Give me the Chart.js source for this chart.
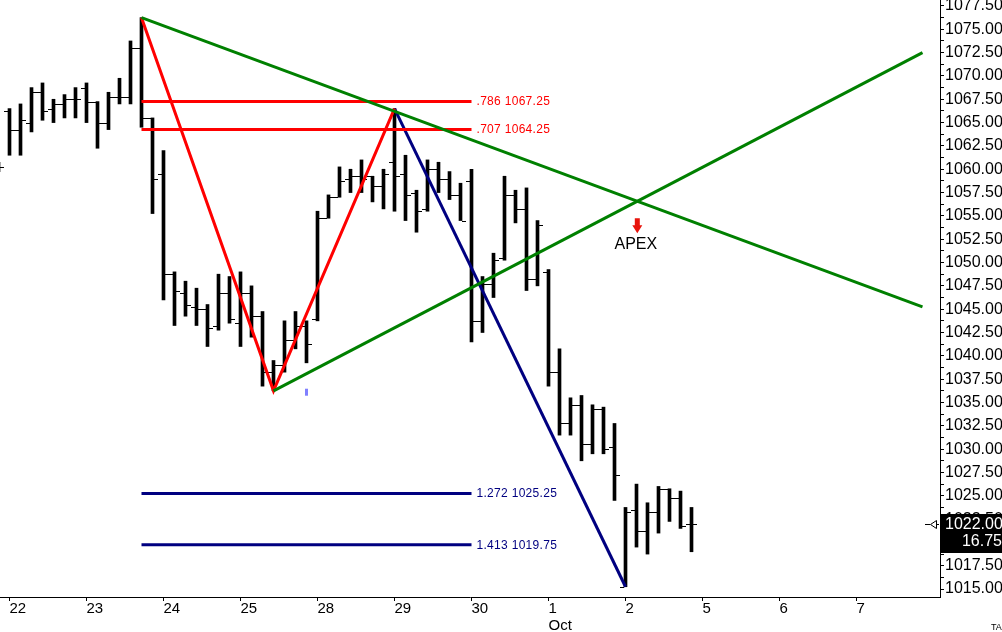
<!DOCTYPE html>
<html><head><meta charset="utf-8">
<script src="https://cdn.jsdelivr.net/npm/chart.js@4.4.1/dist/chart.umd.min.js"></script>
<style>html,body{margin:0;padding:0;background:#fff;overflow:hidden}canvas{display:block}</style>
</head><body>
<canvas id="c" width="1002" height="632"></canvas>
<script>
// ---- Data (bar index -1 .. 62, 7 bars per trading day) ----
const firstBarIndex = -1;
const opens  = [1060.25,
  1066.25,1064.25,1065,1068.25,1066.5,1067,1067.5,1068.75,1067.25,1065,1067.75,1067.75,
  1073,1065.5,1059.5,1048.75,1046.75,1045.25,1045,1043.25,1046.75,1043.5,1046.75,1044.25,
  1038.25,1039,1041.75,1043.25,1044,1054.75,1057,1059,1059.25,1059.25,1058.25,1060.75,
  1059.5,1057.5,1055.75,1060,1059,1057.25,1058.75,1043.75,1047.75,1050.5,1057.25,1055.75,
  1048.25,1049,1038.25,1032.75,1034.75,1030.5,1034.25,1030.25,1015.25,1023.5,1021.25,1023.25,
  1025.75,1024.75,1022];
const highs  = [1060.75,
  1066.5,1067,1068.75,1069.25,1067.5,1068,1068.75,1069.25,1067.25,1068.25,1069.75,1073.75,
  1076.25,1065.5,1062,1049,1048,1047.25,1045.5,1048.75,1048.5,1049,1047.5,1044.75,
  1039.5,1043.75,1044.75,1043.75,1055.5,1057.25,1060.25,1060,1061,1059.25,1060,1066.5,
  1061.5,1057.75,1061,1060.75,1059.75,1058.5,1060,1048.5,1051,1059.25,1057.75,1058,
  1054.5,1049.25,1040.75,1035.5,1035.75,1034.75,1034.5,1032.75,1023.75,1026.25,1024.25,1026,
  1025.75,1025.5,1023.75];
const lows   = [1059.75,
  1061.5,1061.5,1064,1065.25,1065,1065.5,1065.5,1065,1062.25,1064.25,1067,1067,
  1064.5,1055.25,1046,1043.25,1044.25,1043.25,1041,1042.75,1043.5,1041,1042,1036.75,
  1036.25,1038.25,1040.75,1039.25,1043.75,1054.75,1057,1057.5,1057.5,1056.5,1055.75,1055.5,
  1054.5,1053.25,1055.5,1057.5,1056.75,1054.5,1041.5,1042.5,1046.25,1050.25,1054.25,1047,
  1047.5,1036.75,1031.5,1031.5,1028.75,1029.5,1029.5,1024.5,1015.25,1019.5,1018.75,1021,
  1022.25,1021.5,1019];
const closes = [1060.25,
  1064.25,1065.25,1068.25,1066.25,1067,1067.5,1067.5,1067.25,1065,1067.75,1067.75,1073,
  1065.5,1059,1048.75,1047,1045.5,1045,1043,1046.75,1044,1046.75,1044.25,1038.25,
  1039,1041.75,1043.25,1041.25,1054.75,1057,1058.75,1059.25,1059,1058.25,1059.5,1059.25,
  1057.25,1055.5,1060,1059,1057.25,1054.5,1043.75,1047.75,1050.25,1057.25,1055.75,1048.25,
  1054,1038.25,1032.75,1034.75,1030.5,1034.25,1030,1027.25,1023.25,1021.25,1023.25,1025.75,
  1024.75,1021.75,1022];

// x axis: day labels and the bar index where each day starts
const dayLabels  = ['22','23','24','25','28','29','30','1','2','5','6','7'];
const dayTickIdx = [0,7,14,21,28,35,42,49,56,63,70,77];
const monthLabels = {'1':'Oct'};

// y axis labelled ticks
const yMajorTicks = [1015,1017.5,1020,1022.5,1025,1027.5,1030,1032.5,1035,1037.5,1040,1042.5,
  1045,1047.5,1050,1052.5,1055,1057.5,1060,1062.5,1065,1067.5,1070,1072.5,1075,1077.5];

// Harmonic pattern and trendlines (bar index, price)
const patternX = [12, 24, 35];
const patternY = [1076.25, 1036.25, 1066.5];
const legCDX = [35, 56];
const legCDY = [1066.5, 1015.25];
const upperTrendX = [12, 83];
const upperTrendY = [1076.25, 1045.25];
const lowerTrendX = [24, 83];
const lowerTrendY = [1036.25, 1072.5];
const levelSpan = [12, 42];
const retraceLevels = [1067.25, 1064.25];
const retraceLabels = ['.786 1067.25', '.707 1064.25'];
const extLevels = [1025.25, 1019.75];
const extLabels = ['1.272 1025.25', '1.413 1019.75'];
const markerPoint = [{x: 27, y: 1036.1}];
const lastPrice = '1022.00';
const lastChange = '16.75';

// ---- build datasets ----
const RED = '#ff0000', GREEN = '#008000', NAVY = '#000080';
const barData = highs.map((h, k) => ({x: k + firstBarIndex, y: [lows[k], h]}));
function lineDS(xs, ys, color, w) {
  return {type: 'line', data: xs.map((x, k) => ({x: x, y: ys[k]})), borderColor: color,
    borderWidth: w || 3, pointRadius: 0, fill: false, tension: 0, order: 1};
}
const datasets = [
  {type: 'bar', label: 'OHLC', data: barData, backgroundColor: '#000', borderWidth: 0,
   barThickness: 3, order: 10},
  lineDS(upperTrendX, upperTrendY, GREEN),
  lineDS(lowerTrendX, lowerTrendY, GREEN),
  ...retraceLevels.map(v => lineDS(levelSpan, [v, v], RED)),
  ...extLevels.map(v => lineDS(levelSpan, [v, v], NAVY)),
  lineDS(patternX, patternY, RED),
  lineDS(legCDX, legCDY, NAVY),
  {type: 'scatter', data: markerPoint, pointStyle: 'line', rotation: 90, radius: 3.5,
   borderWidth: 3, borderColor: '#8080ff', backgroundColor: '#8080ff', order: 2}
];

const ohlcTicks = {
  id: 'ohlcTicks',
  afterDatasetDraw(chart, args) {
    if (args.index !== 0) return;
    const ctx = chart.ctx, ys = chart.scales.y, a = chart.chartArea;
    const meta = chart.getDatasetMeta(0);
    ctx.save();
    ctx.beginPath(); ctx.rect(a.left, a.top, a.right - a.left, a.bottom - a.top); ctx.clip();
    ctx.strokeStyle = '#000'; ctx.lineWidth = 1;
    meta.data.forEach((el, k) => {
      const x = el.x;
      const yo = Math.round(ys.getPixelForValue(opens[k])) + 0.5;
      const yc = Math.round(ys.getPixelForValue(closes[k])) + 0.5;
      ctx.beginPath();
      ctx.moveTo(x - 5.5, yo); ctx.lineTo(x - 1.5, yo);
      ctx.moveTo(x + 1.5, yc); ctx.lineTo(x + 5.5, yc);
      ctx.stroke();
    });
    ctx.restore();
  }
};

const annotations = {
  id: 'annotations',
  afterDatasetsDraw(chart) {
    const ctx = chart.ctx, xs = chart.scales.x, ys = chart.scales.y;
    ctx.save();
    ctx.font = '12px "Liberation Sans", Arial, sans-serif';
    try { ctx.letterSpacing = '0.3px'; } catch (e) {}
    ctx.textBaseline = 'middle'; ctx.textAlign = 'left';
    const lx = xs.getPixelForValue(levelSpan[1]) + 5;
    retraceLevels.forEach((v, k) => { ctx.fillStyle = RED; ctx.fillText(retraceLabels[k], lx, ys.getPixelForValue(v) + 0.5); });
    extLevels.forEach((v, k) => { ctx.fillStyle = NAVY; ctx.fillText(extLabels[k], lx, ys.getPixelForValue(v) + 0.5); });
    try { ctx.letterSpacing = '0px'; } catch (e) {}
    // apex = intersection of the two trendlines
    const s1 = (upperTrendY[1] - upperTrendY[0]) / (upperTrendX[1] - upperTrendX[0]);
    const s2 = (lowerTrendY[1] - lowerTrendY[0]) / (lowerTrendX[1] - lowerTrendX[0]);
    const b1 = upperTrendY[0] - s1 * upperTrendX[0], b2 = lowerTrendY[0] - s2 * lowerTrendX[0];
    const ax = (b2 - b1) / (s1 - s2), ay = s1 * ax + b1;
    const px = xs.getPixelForValue(ax), py = ys.getPixelForValue(ay);
    ctx.fillStyle = '#e8140c';
    ctx.beginPath();
    ctx.moveTo(px - 2.5, py + 17); ctx.lineTo(px + 2.5, py + 17); ctx.lineTo(px + 2.5, py + 24);
    ctx.lineTo(px + 5, py + 24); ctx.lineTo(px, py + 32); ctx.lineTo(px - 5, py + 24);
    ctx.lineTo(px - 2.5, py + 24); ctx.closePath(); ctx.fill();
    ctx.fillStyle = '#000'; ctx.font = '16px "Liberation Sans", Arial, sans-serif';
    ctx.textAlign = 'center';
    ctx.fillText('APEX', px - 1.5, py + 43);
    ctx.restore();
  },
  afterDraw(chart) {
    const ctx = chart.ctx, ys = chart.scales.y, a = chart.chartArea;
    const y = Math.round(ys.getPixelForValue(closes[closes.length - 1]));
    ctx.save();
    ctx.fillStyle = '#000';
    ctx.fillRect(a.right + 1, y - 10, 70, 39);
    ctx.fillStyle = '#fff';
    ctx.font = '16px "Liberation Sans", Arial, sans-serif';
    ctx.textBaseline = 'middle'; ctx.textAlign = 'left';
    ctx.fillText(lastPrice, a.right + 5, y + 1);
    ctx.textAlign = 'right';
    ctx.fillText(lastChange, 1002, y + 18);
    // pointer marker
    ctx.strokeStyle = '#000'; ctx.lineWidth = 1;
    ctx.beginPath();
    ctx.moveTo(a.right - 15, y + 0.5); ctx.lineTo(a.right - 10, y + 0.5);
    ctx.moveTo(a.right - 9.5, y + 0.5); ctx.lineTo(a.right - 3.5, y - 3.5);
    ctx.lineTo(a.right - 3.5, y + 4.5); ctx.closePath();
    ctx.moveTo(a.right - 3.5, y + 0.5); ctx.lineTo(a.right - 1, y + 0.5);
    ctx.stroke();
    ctx.fillStyle = '#000'; ctx.font = '9px "Liberation Sans", Arial, sans-serif';
    ctx.textAlign = 'left'; ctx.textBaseline = 'alphabetic';
    ctx.fillText('TA', 991, 630);
    ctx.restore();
  }
};

const yAll = [];
for (let k = 0; k < yMajorTicks.length; k++) {
  yAll.push(yMajorTicks[k]);
  if (k < yMajorTicks.length - 1) yAll.push((yMajorTicks[k] + yMajorTicks[k + 1]) / 2);
}

new Chart(document.getElementById('c'), {
  type: 'bar',
  data: {datasets},
  plugins: [ohlcTicks, annotations],
  options: {
    responsive: false, animation: false, devicePixelRatio: 1,
    layout: {padding: 0, autoPadding: false},
    plugins: {legend: {display: false}, tooltip: {enabled: false}},
    scales: {
      x: {
        type: 'linear', offset: false, bounds: 'data',
        min: -9.5 / 11, max: -9.5 / 11 + 940 / 11,
        grid: {drawOnChartArea: false, drawTicks: true, tickLength: 4, color: '#000', offset: false},
        border: {display: true, color: '#000', width: 1},
        afterBuildTicks(s) { s.ticks = dayTickIdx.map(v => ({value: v})); },
        afterFit(s) { s.height = 35; s.paddingLeft = 0; s.paddingRight = 0; s.paddingTop = 0; s.paddingBottom = 0; },
        ticks: {
          autoSkip: false, maxRotation: 0, align: 'start', padding: 0, color: '#000',
          font: {family: '"Liberation Sans", Arial, sans-serif', size: 15, lineHeight: 1.1},
          callback(v) {
            const k = dayTickIdx.indexOf(v);
            if (k < 0) return '';
            const d = dayLabels[k];
            return monthLabels[d] ? [d, monthLabels[d]] : d;
          }
        }
      },
      y: {
        type: 'linear', position: 'right', bounds: 'data',
        min: 1014.15, max: 1078.14,
        grid: {drawOnChartArea: false, drawTicks: true, tickLength: 4, color: '#000'},
        border: {display: true, color: '#000', width: 1},
        afterBuildTicks(s) { s.ticks = yAll.map(v => ({value: v})); },
        afterFit(s) { s.width = 62; s.paddingTop = 0; s.paddingBottom = 0; s.paddingLeft = 0; s.paddingRight = 0; },
        ticks: {
          autoSkip: false, padding: 1, color: '#000',
          font: {family: '"Liberation Sans", Arial, sans-serif', size: 16},
          callback(v) { return yMajorTicks.includes(v) ? v.toFixed(2) : ''; }
        }
      }
    }
  }
});
</script>
</body></html>
